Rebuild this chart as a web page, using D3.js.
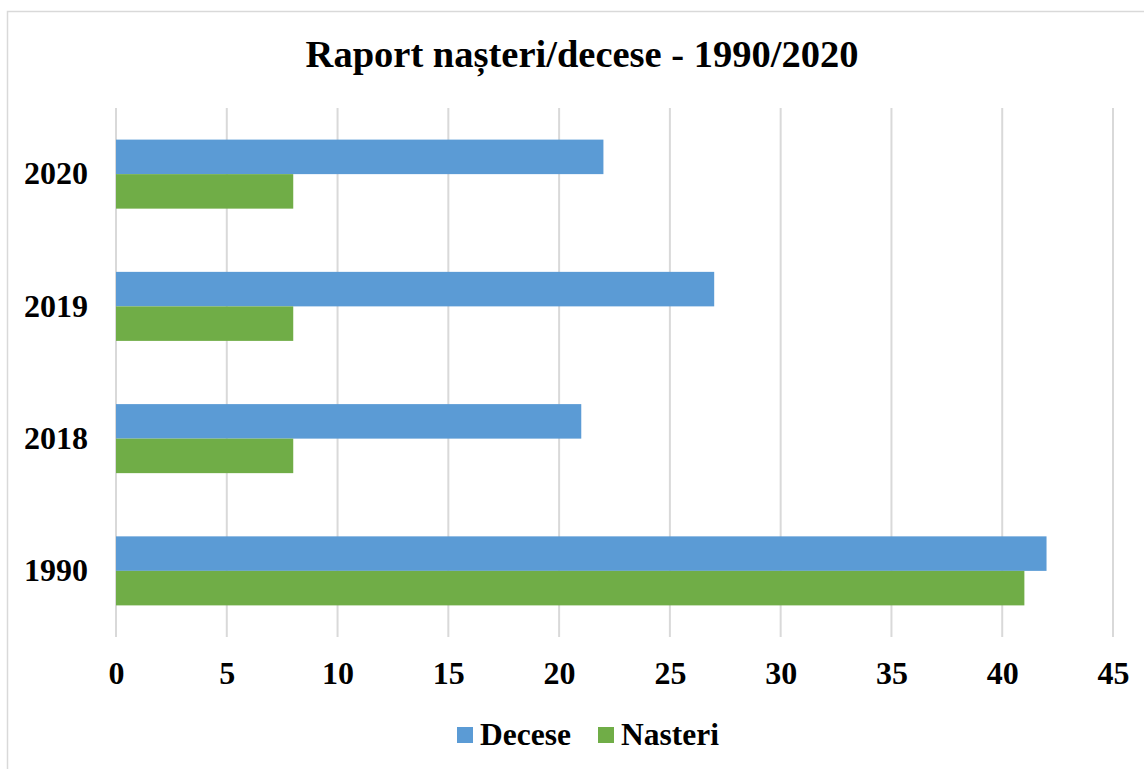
<!DOCTYPE html>
<html>
<head>
<meta charset="utf-8">
<script src="https://cdn.jsdelivr.net/npm/d3@7"></script>
<style>
  body { margin: 0; background: #fff; }
  text { font-family: "Liberation Serif", "Times New Roman", serif; font-weight: bold; fill: #000; }
</style>
</head>
<body>
<div id="chart-area"></div>
<script>
// Data
const years = ["2020", "2019", "2018", "1990"];
const decese = [22, 27, 21, 42];
const nasteri = [8, 8, 8, 41];
const seriesNames = ["Decese", "Nasteri"];
const seriesColors = ["#5B9BD5", "#70AD47"];
const xTicks = [0, 5, 10, 15, 20, 25, 30, 35, 40, 45];

const W = 1144, H = 769;
const margin = { left: 116, right: 31, top: 108, bottom: 132 };
const width = W - margin.left - margin.right,
    height = H - margin.top - margin.bottom;

const svg = d3.select("#chart-area").append("svg")
    .attr("width", W)
    .attr("height", H);

// chart border
svg.append("rect")
    .attr("x", 7.5).attr("y", 11.5)
    .attr("width", W).attr("height", H)
    .attr("fill", "none")
    .attr("stroke", "#D9D9D9")
    .attr("stroke-width", 1.5);

// title
svg.append("text")
    .attr("x", 582).attr("y", 67)
    .attr("text-anchor", "middle")
    .style("font-size", "38.5px")
    .text("Raport nașteri/decese - 1990/2020");

const g = svg.append("g")
    .attr("transform", "translate(" + margin.left + "," + margin.top + ")");

const x = d3.scaleLinear().domain([0, 45]).range([0, width]);
const y = d3.scaleBand().domain(years).range([0, height])
    .paddingInner(0.478).paddingOuter(0.239);
const ySub = d3.scaleBand().domain(seriesNames).range([0, y.bandwidth()]);

// gridlines
g.selectAll(".grid")
    .data(xTicks)
    .enter().append("line")
    .attr("class", "grid")
    .attr("x1", d => x(d)).attr("x2", d => x(d))
    .attr("y1", 0).attr("y2", height)
    .attr("stroke", "#D9D9D9")
    .attr("stroke-width", 2);

// bars
const rows = years.map((yr, i) => ({ year: yr, values: [decese[i], nasteri[i]] }));
const groups = g.selectAll(".row")
    .data(rows)
    .enter().append("g")
    .attr("transform", d => "translate(0," + y(d.year) + ")");

groups.selectAll("rect")
    .data(d => d.values.map((v, j) => ({ name: seriesNames[j], value: v, color: seriesColors[j] })))
    .enter().append("rect")
    .attr("x", x(0))
    .attr("y", d => ySub(d.name))
    .attr("width", d => x(d.value) - x(0))
    .attr("height", ySub.bandwidth())
    .attr("fill", d => d.color);

// x axis labels
const xAxis = g.append("g")
    .attr("transform", "translate(0," + height + ")")
    .call(d3.axisBottom(x).tickValues(xTicks).tickSize(0).tickPadding(24));
xAxis.select(".domain").remove();
xAxis.selectAll("text")
    .attr("font-family", null)
    .style("font-size", "32px")
    .attr("fill", "#000");

// y axis labels
const yAxis = g.append("g")
    .call(d3.axisLeft(y).tickSize(0).tickPadding(28));
yAxis.select(".domain").remove();
yAxis.selectAll("text")
    .attr("font-family", null)
    .style("font-size", "32px")
    .attr("fill", "#000");

// legend
const legendX = [457, 598];
const legend = svg.selectAll(".legend")
    .data(seriesNames)
    .enter().append("g")
    .attr("transform", (d, i) => "translate(" + legendX[i] + ",727)");
legend.append("rect")
    .attr("width", 16).attr("height", 16)
    .attr("fill", (d, i) => seriesColors[i]);
legend.append("text")
    .attr("x", 23).attr("y", 18)
    .style("font-size", "31.5px")
    .text(d => d);
</script>
</body>
</html>
